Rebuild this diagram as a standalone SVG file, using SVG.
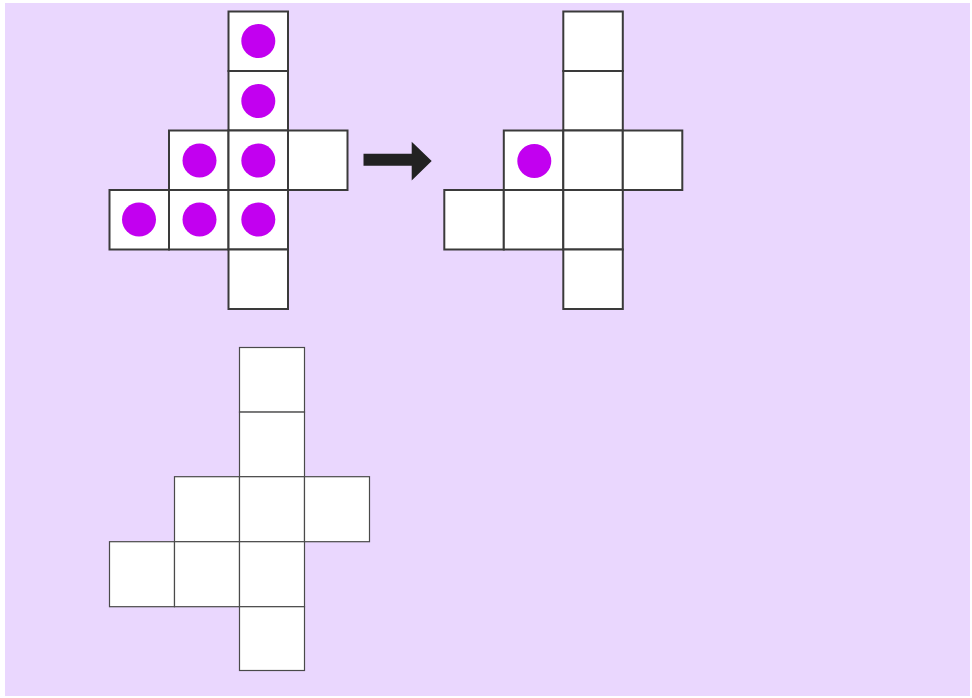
<svg xmlns="http://www.w3.org/2000/svg" width="972" height="698" viewBox="0 0 972 698">
<style>
.c1{fill:#ffffff;stroke:#3a3a3a;stroke-width:2}
.c2{fill:#ffffff;stroke:#4a4a4a;stroke-width:1.2}
.dot{fill:#c200f0}
</style>
<rect x="0" y="0" width="972" height="698" fill="#ffffff"/>
<rect x="5" y="3" width="965" height="693" fill="#ead7fe"/>
<g id="net-left">
<rect class="c1" x="228.5" y="11.5" width="59.5" height="59.5"/>
<rect class="c1" x="228.5" y="71" width="59.5" height="59.5"/>
<rect class="c1" x="169" y="130.5" width="59.5" height="59.5"/>
<rect class="c1" x="228.5" y="130.5" width="59.5" height="59.5"/>
<rect class="c1" x="288" y="130.5" width="59.5" height="59.5"/>
<rect class="c1" x="109.5" y="190" width="59.5" height="59.5"/>
<rect class="c1" x="169" y="190" width="59.5" height="59.5"/>
<rect class="c1" x="228.5" y="190" width="59.5" height="59.5"/>
<rect class="c1" x="228.5" y="249.5" width="59.5" height="59.5"/>
<circle class="dot" cx="258.3" cy="41" r="17"/>
<circle class="dot" cx="258.3" cy="101" r="17"/>
<circle class="dot" cx="199.5" cy="160.5" r="17"/>
<circle class="dot" cx="258.3" cy="160.5" r="17"/>
<circle class="dot" cx="139" cy="219.5" r="17"/>
<circle class="dot" cx="199.5" cy="219.5" r="17"/>
<circle class="dot" cx="258.3" cy="219.5" r="17"/>
</g>
<g id="connectors">
<polygon points="363.5,153.8 411.7,153.8 411.7,141.7 431.7,161 411.7,180.5 411.7,165.7 363.5,165.7" fill="#222222"/>
</g>
<g id="net-right">
<rect class="c1" x="563.3" y="11.5" width="59.5" height="59.5"/>
<rect class="c1" x="563.3" y="71" width="59.5" height="59.5"/>
<rect class="c1" x="503.8" y="130.5" width="59.5" height="59.5"/>
<rect class="c1" x="563.3" y="130.5" width="59.5" height="59.5"/>
<rect class="c1" x="622.8" y="130.5" width="59.5" height="59.5"/>
<rect class="c1" x="444.3" y="190" width="59.5" height="59.5"/>
<rect class="c1" x="503.8" y="190" width="59.5" height="59.5"/>
<rect class="c1" x="563.3" y="190" width="59.5" height="59.5"/>
<rect class="c1" x="563.3" y="249.5" width="59.5" height="59.5"/>
<circle class="dot" cx="534.3" cy="161" r="17"/>
</g>
<g id="net-bottom">
<rect class="c2" x="239.5" y="347.5" width="65" height="64.6"/>
<rect class="c2" x="239.5" y="412.1" width="65" height="64.6"/>
<rect class="c2" x="174.5" y="476.7" width="65" height="65"/>
<rect class="c2" x="239.5" y="476.7" width="65" height="65"/>
<rect class="c2" x="304.5" y="476.7" width="65" height="65"/>
<rect class="c2" x="109.5" y="541.7" width="65" height="65"/>
<rect class="c2" x="174.5" y="541.7" width="65" height="65"/>
<rect class="c2" x="239.5" y="541.7" width="65" height="65"/>
<rect class="c2" x="239.5" y="606.7" width="65" height="63.8"/>
</g>
</svg>
